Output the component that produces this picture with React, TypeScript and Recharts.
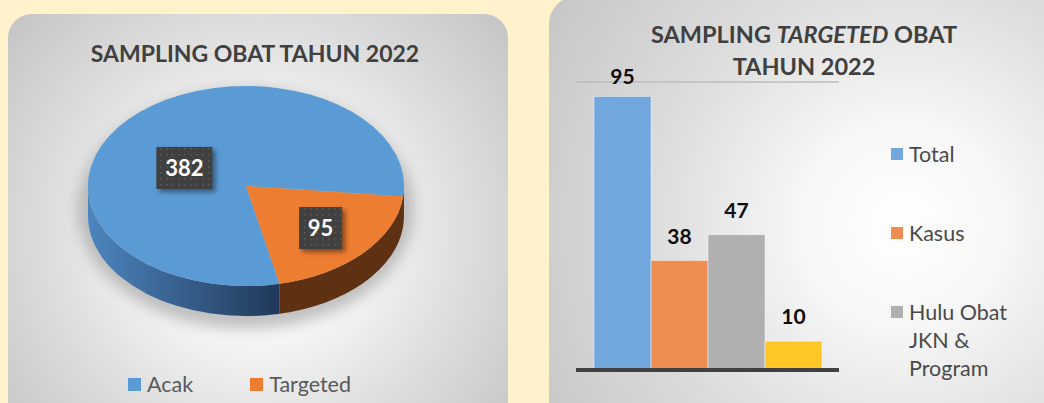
import React from 'react';
import { PieChart, Pie, BarChart, Bar, XAxis, YAxis, CartesianGrid, ReferenceLine, Legend } from 'recharts';

const PIE_NAMES = ['Acak', 'Targeted'];
const PIE_VALUES = [382, 95];
const PIE_COLORS = ['#5B9BD5', '#ED7D31'];

const BAR_CATEGORY = ['2022'];
const BAR_SERIES = ['Total', 'Kasus', 'Hulu Obat JKN & Program', 'Lainnya'];
const BAR_VALUES = [95, 38, 47, 10];
const BAR_COLORS = ['#71A7DC', '#EE8D50', '#B0B0B0', '#FFC726'];
const Y_TICKS = [0, 100];

const FONT = 'Lato, "Open Sans", sans-serif';
const TILT = 0.633;
const DEPTH = 30;
const RAD = Math.PI / 180;
// label boxes sit a bit off the mid angle in the original (excel best fit)
const LABEL_NUDGE = [
  [9, 22],
  [4, 2],
];

const pieData = PIE_NAMES.map((name, i) => ({ name, value: PIE_VALUES[i] }));
const barData = BAR_CATEGORY.map((name) => {
  const row: Record<string, any> = { name };
  BAR_VALUES.forEach((v, i) => (row[`v${i}`] = v));
  return row;
});

function PieSlice3D(props: any) {
  const { cx, cy, outerRadius, startAngle, endAngle, midAngle, index, value } = props;
  const rx = outerRadius;
  const ry = outerRadius * TILT;
  const pt = (a: number, dy = 0) =>
    `${cx + rx * Math.cos(a * RAD)},${cy - ry * Math.sin(a * RAD) + dy}`;

  const walls: string[] = [];
  for (const k of [-1, 0, 1]) {
    const b0 = Math.max(startAngle, 180 + 360 * k);
    const b1 = Math.min(endAngle, 360 + 360 * k);
    if (b1 > b0) {
      walls.push(
        `M${pt(b0)} A${rx},${ry} 0 0 0 ${pt(b1)} L${pt(b1, DEPTH)} A${rx},${ry} 0 0 1 ${pt(b0, DEPTH)} Z`
      );
    }
  }
  const large = endAngle - startAngle > 180 ? 1 : 0;
  const top = `M${cx},${cy} L${pt(startAngle)} A${rx},${ry} 0 ${large} 0 ${pt(endAngle)} Z`;

  const nudge = LABEL_NUDGE[index] || [0, 0];
  const lx = cx + 0.6 * rx * Math.cos(midAngle * RAD) + nudge[0];
  const ly = cy - 0.6 * ry * Math.sin(midAngle * RAD) + nudge[1];
  const text = String(value);
  const bw = text.length * 13 + 17;
  const bh = 42;

  return (
    <g>
      {index === 0 && (
        <>
          <defs>
            <linearGradient id="wallBlue" gradientUnits="userSpaceOnUse" x1={cx - rx} y1={0} x2={cx + rx * 0.22} y2={0}>
              <stop offset="0%" stopColor="#4d85bf" />
              <stop offset="100%" stopColor="#203858" />
            </linearGradient>
            <filter id="pieShadow" x="-20%" y="-20%" width="140%" height="140%">
              <feGaussianBlur stdDeviation="7" />
            </filter>
            <filter id="boxShadow" x="-30%" y="-30%" width="160%" height="160%">
              <feDropShadow dx="3" dy="3" stdDeviation="2.5" floodColor="#000" floodOpacity="0.45" />
            </filter>
            <pattern id="dots" width="6" height="6" patternUnits="userSpaceOnUse">
              <rect width="6" height="6" fill="#3f3f3f" />
              <rect x="2" y="2" width="1.5" height="1.5" fill="#5b5b5b" />
            </pattern>
          </defs>
          <ellipse
            cx={cx}
            cy={cy + DEPTH / 2 + 8}
            rx={rx + 10}
            ry={ry + DEPTH / 2 + 5}
            fill="#8a8a8a"
            opacity={0.5}
            filter="url(#pieShadow)"
          />
        </>
      )}
      {walls.map((d, i) => (
        <path key={i} d={d} fill={index === 0 ? 'url(#wallBlue)' : '#5f3113'} />
      ))}
      <path d={top} fill={PIE_COLORS[index]} />
      <g filter="url(#boxShadow)">
        <rect x={lx - bw / 2} y={ly - bh / 2} width={bw} height={bh} fill="url(#dots)" />
      </g>
      <text
        x={lx}
        y={ly + 8}
        textAnchor="middle"
        fill="#ffffff"
        fontFamily={FONT}
        fontWeight={700}
        fontSize={22}
      >
        {text}
      </text>
    </g>
  );
}

function PieLegend(props: any) {
  const payload = props.payload || [];
  return (
    <div style={{ display: 'flex', alignItems: 'center', fontFamily: FONT, fontSize: 21.5, color: '#595959' }}>
      {payload.map((p: any, i: number) => (
        <div key={i} style={{ display: 'flex', alignItems: 'center', marginRight: 57, lineHeight: '28px' }}>
          <span style={{ width: 13, height: 13, background: PIE_COLORS[i], marginRight: 6, display: 'inline-block' }} />
          <span>{p.value}</span>
        </div>
      ))}
    </div>
  );
}

function BarLegend(props: any) {
  const payload = (props.payload || [])
    .filter((p: any) => p.type !== 'none')
    .slice()
    .sort((a: any, b: any) => BAR_SERIES.indexOf(a.value) - BAR_SERIES.indexOf(b.value));
  return (
    <div style={{ fontFamily: FONT, fontSize: 21.5, color: '#4a4a4a' }}>
      {payload.map((p: any, i: number) => (
        <div key={i} style={{ display: 'flex', alignItems: 'flex-start', marginBottom: 51 }}>
          <span style={{ width: 12, height: 12, background: p.color, marginTop: 8, marginRight: 6, flex: 'none' }} />
          <span style={{ width: 110, lineHeight: '28px' }}>{p.value}</span>
        </div>
      ))}
    </div>
  );
}

function BarValue(props: any) {
  const { x, y, width, value } = props;
  const center = Math.max(y - 25, 76);
  return (
    <text
      x={x + width / 2}
      y={center + 8}
      textAnchor="middle"
      fill="#0d0d0d"
      fontFamily={FONT}
      fontWeight={700}
      fontSize={21}
    >
      {value}
    </text>
  );
}

export default function App() {
  return (
    <div
      style={{
        position: 'fixed',
        left: 0,
        top: 0,
        width: 1044,
        height: 403,
        overflow: 'hidden',
        background: '#FFF2CC',
        fontFamily: FONT,
      }}
    >
      <div
        style={{
          position: 'absolute',
          left: 8,
          top: 14,
          width: 500,
          height: 420,
          borderRadius: 24,
          background:
            'radial-gradient(circle farthest-corner at 50% 52%, #ffffff 0%, #f7f7f7 30%, #dedede 62%, #c4c4c4 100%)',
        }}
      >
        <div
          style={{
            position: 'absolute',
            left: 47,
            top: 23,
            width: 400,
            textAlign: 'center',
            fontSize: 23,
            fontWeight: 700,
            lineHeight: '32px',
            color: '#404040',
          }}
        >
          SAMPLING OBAT TAHUN 2022
        </div>
        <div style={{ position: 'absolute', left: 0, top: 0 }}>
          <PieChart width={500} height={389} margin={{ top: 0, right: 0, bottom: 0, left: 0 }}>
            <Pie
              data={pieData}
              dataKey="value"
              nameKey="name"
              cx={238}
              cy={172}
              outerRadius={158}
              startAngle={-6}
              endAngle={354}
              fill="transparent"
              stroke="none"
              label={PieSlice3D}
              labelLine={false}
              isAnimationActive={false}
            />
            <Legend
              layout="horizontal"
              verticalAlign="middle"
              align="center"
              wrapperStyle={{ left: 120, top: 356, width: 360 }}
              content={PieLegend}
            />
          </PieChart>
        </div>
      </div>

      <div
        style={{
          position: 'absolute',
          left: 549,
          top: -4,
          width: 520,
          height: 440,
          borderRadius: 28,
          background:
            'radial-gradient(circle farthest-corner at 68% 52%, #ffffff 0%, #f6f6f6 25%, #dcdcdc 60%, #c6c6c6 100%)',
        }}
      >
        <div
          style={{
            position: 'absolute',
            left: 55,
            top: 22,
            width: 400,
            textAlign: 'center',
            fontSize: 23.5,
            fontWeight: 700,
            lineHeight: '32px',
            color: '#404040',
          }}
        >
          SAMPLING <i>TARGETED</i> OBAT
          <br />
          TAHUN 2022
        </div>
        <div style={{ position: 'absolute', left: 0, top: 4 }}>
          <BarChart
            width={495}
            height={403}
            data={barData}
            margin={{ top: 82, right: 205, bottom: 33, left: 27 }}
            barCategoryGap={18}
            barGap={0}
          >
            <CartesianGrid vertical={false} stroke="#bdbdbd" strokeWidth={1.5} />
            <XAxis dataKey="name" hide />
            <YAxis hide domain={[0, 100]} ticks={Y_TICKS} />
            {BAR_SERIES.map((s, i) => (
              <Bar
                key={s}
                dataKey={`v${i}`}
                name={s}
                fill={BAR_COLORS[i]}
                stroke="rgba(255,255,255,0.45)"
                strokeWidth={1}
                legendType={i === 3 ? 'none' : 'square'}
                label={BarValue}
                isAnimationActive={false}
              />
            ))}
            <ReferenceLine y={0} stroke="#404040" strokeWidth={4} />
            <Legend
              layout="horizontal"
              verticalAlign="middle"
              align="center"
              wrapperStyle={{ left: 342, top: 140, width: 150 }}
              content={BarLegend}
            />
          </BarChart>
        </div>
      </div>
    </div>
  );
}
